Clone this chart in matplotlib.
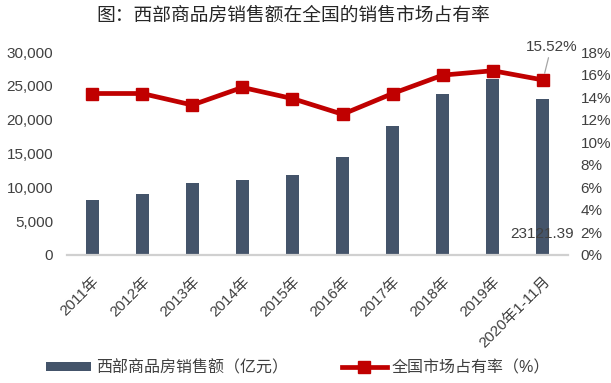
import matplotlib
matplotlib.use("Agg")
import matplotlib.pyplot as plt
from matplotlib.ticker import FuncFormatter, MultipleLocator
from matplotlib.lines import Line2D
from matplotlib.patches import Patch

plt.rcParams['font.family'] = ['Liberation Sans', 'Noto Sans CJK SC', 'DejaVu Sans']

categories = ['2011年', '2012年', '2013年', '2014年', '2015年', '2016年',
              '2017年', '2018年', '2019年', '2020年1-11月']
sales = [8170, 9060, 10690, 11140, 11880, 14550, 19010, 23760, 25990, 23121.39]
share = [14.32, 14.32, 13.30, 14.86, 13.87, 12.48, 14.32, 15.95, 16.34, 15.52]

title = '图：西部商品房销售额在全国的销售市场占有率'
bar_label = '西部商品房销售额（亿元）'
line_label = '全国市场占有率（%）'

txt = '#404040'
bar_color = '#44546a'
line_color = '#c00000'

fig = plt.figure(figsize=(6.11, 3.83), dpi=100)
ax = fig.add_axes([67/611, 128/383, 501/611, 203/383])
ax2 = ax.twinx()

x = list(range(len(categories)))
ax.bar(x, sales, width=0.26, color=bar_color, zorder=2)
ax.set_xlim(-0.5, len(categories) - 0.5)
ax.set_ylim(0, 30000)
ax.yaxis.set_major_locator(MultipleLocator(5000))
ax.yaxis.set_major_formatter(FuncFormatter(lambda v, p: f'{int(v):,}'))

ax2.plot(x, share, color=line_color, lw=3.4, marker='s', markersize=9,
         markerfacecolor=line_color, markeredgecolor=line_color, zorder=3)
ax2.set_ylim(0, 18)
ax2.yaxis.set_major_locator(MultipleLocator(2))
ax2.yaxis.set_major_formatter(FuncFormatter(lambda v, p: f'{int(v)}%'))

for a in (ax, ax2):
    for s in ('top', 'left', 'right', 'bottom'):
        a.spines[s].set_visible(False)
    a.tick_params(axis='y', length=0, labelsize=11, colors=txt)

ax.spines['bottom'].set_visible(True)
ax.spines['bottom'].set_color('#d0d0d0')
ax.spines['bottom'].set_linewidth(1.6)
ax.tick_params(axis='y', pad=10)
ax2.tick_params(axis='y', pad=9)

ax.set_xticks(x)
ax.set_xticklabels(categories, rotation=45, ha='right', rotation_mode='anchor',
                   fontsize=11, color=txt)
ax.tick_params(axis='x', length=0, pad=14)

# data labels
ax2.annotate(f'{share[-1]:.2f}%', xy=(x[-1], share[-1]), xytext=(6, 19),
             textcoords='offset points', ha='center', va='bottom', fontsize=11,
             color=txt,
             arrowprops=dict(arrowstyle='-', color='#a6a6a6', lw=0.9,
                             shrinkA=1, shrinkB=5))
ax.annotate(f'{sales[-1]:.2f}', xy=(x[-1], 0), xytext=(22, 15),
            textcoords='offset points', ha='right', va='center', fontsize=11,
            color=txt)

fig.text(0.48, 0.958, title, ha='center', va='center', fontsize=13.5, color='#262626')

handles = [Patch(facecolor=bar_color, edgecolor='none'),
           Line2D([0], [0], color=line_color, lw=3.4, marker='s', markersize=9)]
fig.legend(handles, [bar_label, line_label], loc='center',
           bbox_to_anchor=(298/611, 0.04), ncol=2, frameon=False, fontsize=11.5,
           handlelength=2.8, handleheight=0.5, handletextpad=0.3, columnspacing=3.4,
           labelcolor=txt)

fig.savefig('out.png', dpi=100)
